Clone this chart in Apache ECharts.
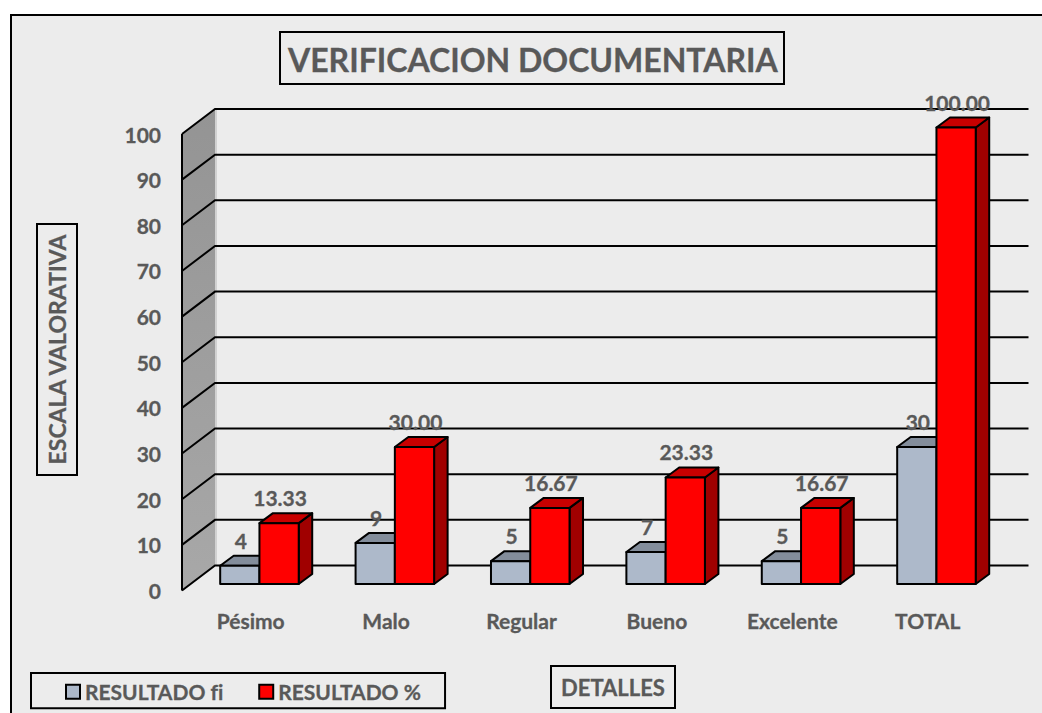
<!DOCTYPE html>
<html>
<head>
<meta charset="utf-8">
<style>html,body{margin:0;padding:0;background:#fff}#c{width:1042px;height:713px;font-variant-ligatures:none}#c text{font-variant-ligatures:none}</style>
<script src="https://cdn.jsdelivr.net/npm/echarts@6/dist/echarts.min.js"></script>
</head>
<body>
<div id="c"></div>
<script>
const categories = ['Pésimo','Malo','Regular','Bueno','Excelente','TOTAL'];
const resultadoFi = [4,9,5,7,5,30];
const resultadoPct = [13.33,30.00,16.67,23.33,16.67,100.00];
const yTicks = [0,10,20,30,40,50,60,70,80,90,100];

const FONT = 'Lato';
const TEXT = '#595959';
const THICK = 0.3;
const WALL_DX = 33, WALL_DY = 25;
const BAR_DX = 13.5, BAR_DY = 10;
const FLOOR_DX = 9.75, FLOOR_DY = 6.5;
const BAR_RATIO = 0.29;

function barRenderer(side, front, top, dark, digits) {
  return function (params, api) {
    const cat = api.value(0), val = api.value(1);
    const base = api.coord([cat, 0]);
    const tip = api.coord([cat, val]);
    const w = api.size([1, 0])[0] * BAR_RATIO;
    const x0 = base[0] + FLOOR_DX + (side < 0 ? -w : 0);
    const x1 = x0 + w;
    const yb = base[1] - FLOOR_DY;
    const yt = tip[1] - FLOOR_DY;
    const line = {stroke:'#000', lineWidth:2, lineJoin:'round'};
    return {
      type:'group',
      children:[
        {type:'polygon', shape:{points:[[x1,yb],[x1+BAR_DX,yb-BAR_DY],[x1+BAR_DX,yt-BAR_DY],[x1,yt]]}, style:Object.assign({fill:dark},line)},
        {type:'polygon', shape:{points:[[x0,yt],[x1,yt],[x1+BAR_DX,yt-BAR_DY],[x0+BAR_DX,yt-BAR_DY]]}, style:Object.assign({fill:top},line)},
        {type:'rect', shape:{x:x0,y:yt,width:w,height:yb-yt}, style:Object.assign({fill:front},line)},
        {type:'text', z2:5, style:{
          x:(x0+x1)/2+1, y:yt-25.5, text:val.toFixed(digits), align:'center', verticalAlign:'middle',
          font:'bold 21px '+FONT, fill:TEXT, stroke:TEXT, lineWidth:THICK}}
      ]
    };
  };
}

const option = {
  backgroundColor:'#ffffff',
  animation:false,
  textStyle:{fontFamily:FONT},
  title:[
    {text:'VERIFICACION DOCUMENTARIA', left:280, top:32,
     padding:[10,6,8,8], borderColor:'#000', borderWidth:2,
     textStyle:{fontFamily:FONT,fontWeight:'bold',fontSize:32,color:TEXT,lineHeight:34,textBorderColor:TEXT,textBorderWidth:THICK}},
    {text:'DETALLES', left:551, top:666,
     padding:[10,10,10,10], borderColor:'#000', borderWidth:2,
     textStyle:{fontFamily:FONT,fontWeight:'bold',fontSize:22,color:TEXT,lineHeight:22,textBorderColor:TEXT,textBorderWidth:THICK}}
  ],
  grid:{left:182, top:134, width:812.4, height:456.5, containLabel:false},
  legend:{
    left:31, top:673, padding:[8,24,6,34], itemGap:35, itemWidth:14, itemHeight:14,
    borderColor:'#000', borderWidth:2, backgroundColor:'#ececec', selectedMode:false,
    icon:'rect',
    textStyle:{fontFamily:FONT,fontWeight:'bold',fontSize:21,color:TEXT,padding:[0,0,6,0],textBorderColor:TEXT,textBorderWidth:THICK},
    data:[
      {name:'RESULTADO fi', itemStyle:{color:'#ADB9CA',borderColor:'#000',borderWidth:2}},
      {name:'RESULTADO %', itemStyle:{color:'#FF0000',borderColor:'#000',borderWidth:2}}
    ]
  },
  xAxis:{type:'category', data:categories,
    axisLine:{show:false}, axisTick:{show:false}, splitLine:{show:false},
    axisLabel:{margin:19,fontFamily:FONT,fontWeight:'bold',fontSize:21,color:TEXT,interval:0,padding:[0,0,0,2],textBorderColor:TEXT,textBorderWidth:THICK}},
  yAxis:{type:'value', min:0, max:100, interval:10,
    axisLine:{show:false}, axisTick:{show:false}, splitLine:{show:false},
    axisLabel:{margin:21,fontFamily:FONT,fontWeight:'bold',fontSize:21,color:TEXT,padding:[10,0,0,0],textBorderColor:TEXT,textBorderWidth:THICK}},
  graphic:[
    {type:'rect', z:-10, shape:{x:11,y:15,width:1100,height:800},
     style:{fill:'#ececec',stroke:'#000',lineWidth:2}},
    {type:'text', z:10, x:57, y:349.5, rotation:Math.PI/2,
     style:{text:'ESCALA VALORATIVA', align:'center', verticalAlign:'middle',
       font:'bold 23px '+FONT, fill:TEXT, stroke:TEXT, lineWidth:THICK}},
    {type:'rect', z:10, shape:{x:37,y:224,width:40,height:251},
     style:{fill:null,stroke:'#000',lineWidth:2}}
  ],
  series:[
    {type:'custom', name:'wall', silent:true, z:1, encode:{x:0,y:1},
     data:[[0,0]],
     renderItem:function(params,api){
       const r = params.coordSys;
       const pts = [[r.x,r.y],[r.x+WALL_DX,r.y-WALL_DY],[r.x+WALL_DX,r.y+r.height-WALL_DY],[r.x,r.y+r.height]];
       return {type:'group',children:[
         {type:'polygon',shape:{points:pts},style:{
           fill:new echarts.graphic.LinearGradient(0,0,0,1,[{offset:0,color:'#949494'},{offset:1,color:'#a8a8a8'}]),stroke:null}},
         {type:'line',shape:{x1:r.x+WALL_DX+1,y1:r.y-WALL_DY,x2:r.x+WALL_DX+1,y2:r.y+r.height-WALL_DY},style:{stroke:'#c8c8c8',lineWidth:1.5}},
         {type:'line',shape:{x1:r.x,y1:r.y,x2:r.x,y2:r.y+r.height},style:{stroke:'#000',lineWidth:2}}
       ]};
     }},
    {type:'custom', name:'grid', silent:true, z:2, encode:{x:0,y:1},
     data:yTicks.map(function(t){return [0,t];}),
     renderItem:function(params,api){
       const r = params.coordSys;
       const y = api.coord([0,api.value(1)])[1];
       return {type:'polyline',shape:{points:[[r.x,y],[r.x+WALL_DX,y-WALL_DY],[r.x+WALL_DX+813.5,y-WALL_DY]]},
         style:{fill:null,stroke:'#000',lineWidth:2}};
     }},
    {type:'custom', name:'RESULTADO fi', z:3, encode:{x:0,y:1},
     itemStyle:{color:'#ADB9CA'},
     data:resultadoFi.map(function(v,i){return [i,v];}),
     renderItem:barRenderer(-1,'#ADB9CA','#838D9B','#6E7885',0)},
    {type:'custom', name:'RESULTADO %', z:4, encode:{x:0,y:1},
     itemStyle:{color:'#FF0000'},
     data:resultadoPct.map(function(v,i){return [i,v];}),
     renderItem:barRenderer(1,'#FF0000','#C80000','#A00000',2)}
  ]
};
const chart = echarts.init(document.getElementById('c'),null,{renderer:'svg'});
chart.setOption(option);
</script>
</body>
</html>
